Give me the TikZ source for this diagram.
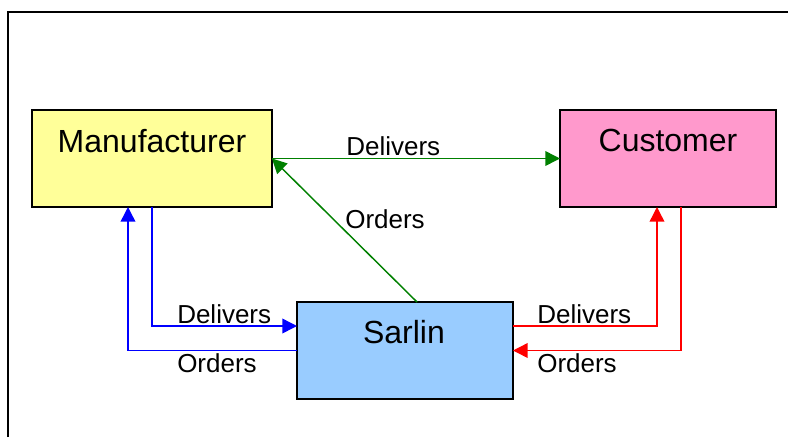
\documentclass[tikz,border=0pt]{standalone}
\usepackage{fontspec}
\setmainfont{Liberation Sans}
\usetikzlibrary{arrows.meta,calc}

\definecolor{boxyellow}{HTML}{FFFF99}
\definecolor{boxpink}{HTML}{FF99CC}
\definecolor{boxblue}{HTML}{99CCFF}
\definecolor{flowgreen}{HTML}{008000}
\definecolor{flowblue}{HTML}{0000FF}
\definecolor{flowred}{HTML}{FF0000}

\tikzset{
  party/.style={draw=black, line width=1.4pt, inner sep=0pt, outer sep=0pt,
    minimum height=72.75pt},
  partyname/.style={anchor=base, inner sep=0pt, font=\fontsize{24}{28}\selectfont},
  flow/.style={line width=1.1pt, -{Triangle[length=11pt,width=11pt]}},
  flowlabel/.style={anchor=base west, inner sep=0pt, font=\fontsize{19.5}{23}\selectfont}
}

\begin{document}
\begin{tikzpicture}[x=0.75pt, y=-0.75pt]
  \useasboundingbox (0,0) rectangle (788,437);

  % outer frame
  \draw[line width=1.5pt] (8,437) -- (8,12) -- (788,12);

  % the three parties
  \node[party, fill=boxyellow, minimum width=180pt] (mfg)  at (152,158.5) {};
  \node[party, fill=boxpink,   minimum width=162pt] (cust) at (668,158.5) {};
  \node[party, fill=boxblue,   minimum width=162pt] (sar)  at (405,350.5) {};

  \node[partyname] (mfgname)  at (152,152) {Manufacturer};
  \node[partyname] (custname) at (668,151) {Customer};
  \node[partyname] (sarname)  at (404,343) {Sarlin};

  % manufacturer <-> customer, Sarlin orders from manufacturer
  \draw[flow, flowgreen] (mfg.east) -- (cust.west);
  \draw[flow, flowgreen] ($(sar.north)+(12,0)$) -- (mfg.east);

  % manufacturer <-> Sarlin
  \draw[flow, flowblue] (mfg.south) |- ($(sar.west)+(0,-24.5)$);
  \draw[flow, flowblue] (sar.west) -| ($(mfg.south)+(-24,0)$);

  % Sarlin <-> customer
  \draw[flow, flowred] ($(sar.east)+(0,-24.5)$) -| ($(cust.south)+(-11,0)$);
  \draw[flow, flowred] ($(cust.south)+(13,0)$) |- (sar.east);

  % flow labels
  \node[flowlabel] (lbl1) at (346,155) {Delivers};
  \node[flowlabel] (lbl2) at (345,228) {Orders};
  \node[flowlabel] (lbl3) at (177,323) {Delivers};
  \node[flowlabel] (lbl4) at (177,372) {Orders};
  \node[flowlabel] (lbl5) at (537,323) {Delivers};
  \node[flowlabel] (lbl6) at (537,372) {Orders};
\end{tikzpicture}
\end{document}
